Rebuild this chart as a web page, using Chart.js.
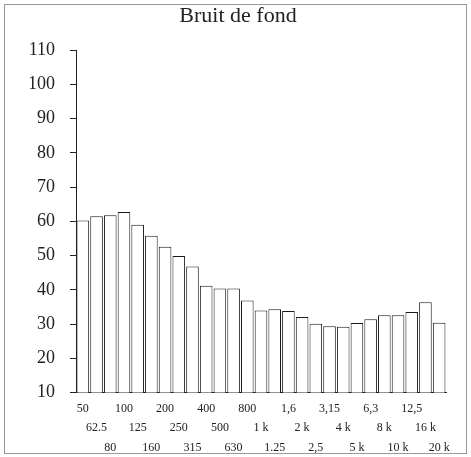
<!DOCTYPE html>
<html>
<head>
<meta charset="utf-8">
<script src="https://cdn.jsdelivr.net/npm/chart.js@4/dist/chart.umd.min.js"></script>
<style>
  html, body { margin: 0; padding: 0; background: #fff; }
  #wrap { position: relative; width: 471px; height: 457px; }
  #frame { position: absolute; left: 4px; top: 4px; width: 461px; height: 448px; border: 1px solid #999; pointer-events: none; }
  canvas { position: absolute; left: 0; top: 0; }
</style>
</head>
<body>
<div id="wrap">
  <canvas id="c" width="471" height="457"></canvas>
  <div id="frame"></div>
</div>
<script>
const titleText = 'Bruit de fond';
const categories = ['50','62.5','80','100','125','160','200','250','315','400','500','630','800',
  '1 k','1.25','1,6','2 k','2,5','3,15','4 k','5 k','6,3','8 k','10 k','12,5','16 k','20 k'];
const levels = [60.2, 61.5, 61.8, 62.7, 59.0, 55.8, 52.6, 49.9, 46.8, 41.2, 40.4, 40.4, 36.9,
  34.0, 34.3, 33.8, 32.1, 30.1, 29.4, 29.2, 30.3, 31.4, 32.6, 32.6, 33.5, 36.4, 30.4];
const yMin = 10, yMax = 110, yStep = 10;

const serif = "'Liberation Serif', 'DejaVu Serif', serif";

new Chart(document.getElementById('c'), {
  type: 'bar',
  data: {
    labels: categories,
    datasets: [{
      data: levels,
      backgroundColor: '#ffffff',
      borderColor: '#1a1a1a',
      borderWidth: 1,
      barPercentage: 0.92,
      categoryPercentage: 1.0
    }]
  },
  options: {
    responsive: false,
    animation: false,
    layout: { padding: { left: 30, right: 25, top: 0, bottom: -7 } },
    plugins: {
      legend: { display: false },
      tooltip: { enabled: false },
      title: {
        display: true,
        text: titleText,
        color: '#222',
        font: { family: serif, size: 22, weight: 'normal' },
        padding: { top: 3, bottom: 20.6 }
      }
    },
    scales: {
      x: {
        grid: { display: false, drawTicks: false },
        border: { display: true, color: '#222', width: 1 },
        ticks: {
          autoSkip: false,
          maxRotation: 0,
          minRotation: 0,
          padding: 6,
          color: '#222',
          font: { family: serif, size: 12, lineHeight: 1.65 },
          callback: function(value, index) {
            const lines = ['', '', ''];
            lines[index % 3] = categories[index];
            return lines;
          }
        }
      },
      y: {
        min: yMin,
        max: yMax,
        afterFit: function(scale) { scale.width = 46; },
        grid: { drawOnChartArea: false, drawTicks: true, tickLength: 6, color: '#222' },
        border: { display: true, color: '#222', width: 1 },
        ticks: {
          stepSize: yStep,
          padding: 15,
          color: '#222',
          font: { family: serif, size: 18 }
        }
      }
    }
  }
});
</script>
</body>
</html>
